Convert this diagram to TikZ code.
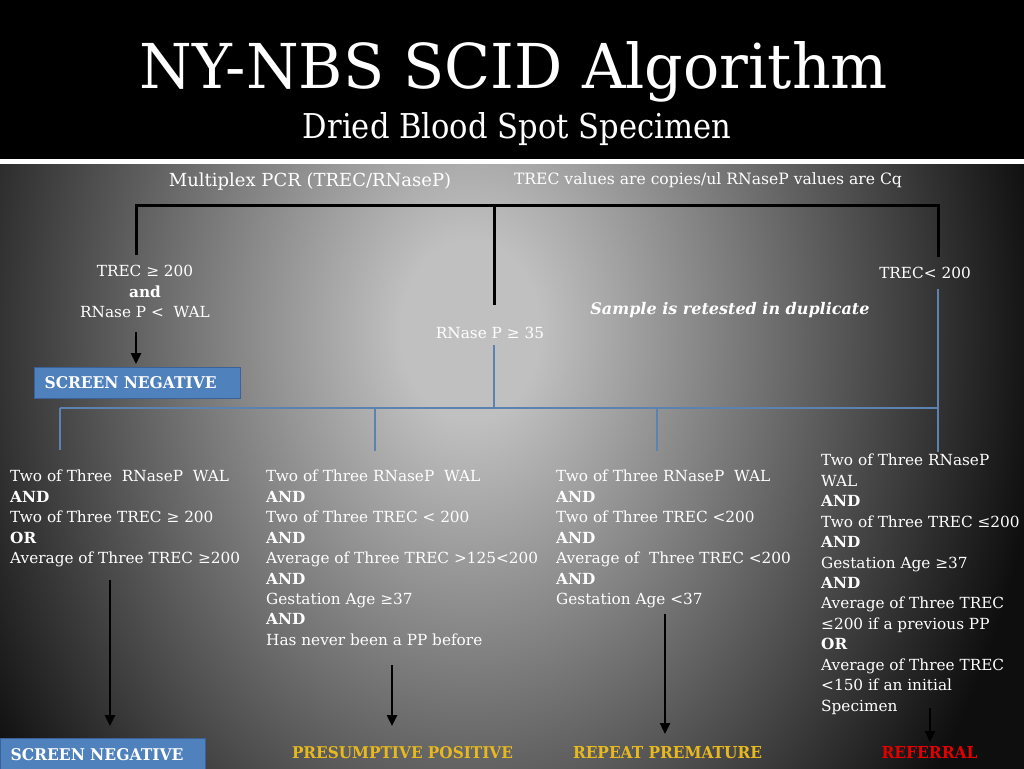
\documentclass[tikz,border=0pt]{standalone}
\usepackage{fontspec}
\setmainfont{DejaVu Serif}
\usepackage{graphicx}
\usetikzlibrary{arrows.meta}
\definecolor{bgin}{RGB}{192,192,192}
\definecolor{bgout}{RGB}{14,14,14}
\definecolor{boxblue}{RGB}{79,129,189}
\definecolor{boxedge}{RGB}{58,98,152}
\definecolor{thinblue}{RGB}{92,130,178}
\definecolor{gold}{RGB}{232,185,30}
\definecolor{refred}{RGB}{228,0,0}
\pgfdeclareradialshading{bgshade}{\pgfpoint{0bp}{0bp}}{color(0bp)=(bgin); color(1.5bp)=(bgin); color(12.5bp)=(bgout); color(50bp)=(bgout)}
\tikzset{
  body/.style={text=white, font=\fontsize{15.3}{20.45}\selectfont, inner sep=0pt, align=left, anchor=north west},
  lbl/.style={text=white, font=\fontsize{15.3}{20.45}\selectfont, inner sep=0pt},
  heavy/.style={line width=3pt, black},
  thinline/.style={line width=1.3pt, thinblue},
  arr/.style={line width=2.4pt, black, -{Triangle[length=11pt,width=10pt]}},
  negbox/.style={fill=boxblue, draw=boxedge, line width=1.2pt, text=white,
    anchor=north west, inner xsep=10pt, inner ysep=0pt, align=left},
  outcome/.style={font=\bfseries, inner sep=0pt, anchor=base}
}
\begin{document}
\begin{tikzpicture}[x=1pt,y=-1pt]
\useasboundingbox (0,0) rectangle (1024,768);
% background
\fill[black] (0,0) rectangle (1024,768);
\begin{scope}
  \clip (0,163) rectangle (1024,768);
  \shade[shading=bgshade] (470,330) ellipse [x radius=1150, y radius=1500];
\end{scope}
\fill[white] (0,159) rectangle (1024,163.5);

% titles
\node[text=white, inner sep=0pt, anchor=base] (title) at (514,88)
  {\resizebox{748pt}{47pt}{\fontsize{60}{60}\selectfont NY-NBS SCID Algorithm}};
\node[text=white, inner sep=0pt, anchor=base] (subtitle) at (517,138)
  {\resizebox{428pt}{26pt}{\fontsize{30}{30}\selectfont Dried Blood Spot Specimen}};

% top labels
\node[lbl, anchor=base, font=\fontsize{18}{20}\selectfont] (mpcr) at (310,186) {Multiplex PCR (TREC/RNaseP)};
\node[lbl, anchor=base, font=\fontsize{15.6}{18}\selectfont] (units) at (708,184) {TREC values are copies/ul RNaseP values are Cq};

% first level
\node[lbl, align=center, anchor=north] (condA) at (145,265)
  {TREC ≥ 200\\\textbf{and}\\RNase P <\ \ WAL};
\node[lbl, anchor=base] (condB) at (490,338) {RNase P ≥ 35};
\node[lbl, anchor=base] (condC) at (925,278) {TREC< 200};
\node[lbl, anchor=base, font=\bfseries\itshape\fontsize{16}{20}\selectfont] (retest) at (730,314) {Sample is retested in duplicate};

\node[negbox, minimum width=206pt, minimum height=31pt, text width=186pt] (neg1) at (34,367)
  {\resizebox{172pt}{12pt}{\bfseries SCREEN NEGATIVE}};

% bracket
\coordinate (bA) at (136,255);
\coordinate (bAt) at (136,205);
\coordinate (bBt) at (494,205);
\coordinate (bB) at (494,305);
\coordinate (bCt) at (938,205);
\coordinate (bC) at (938,257);
\draw[heavy] (bA) -- (bAt) -- (bCt) -- (bC);
\draw[heavy] (bBt) -- (bB);
\coordinate (aA1) at (136,332);
\coordinate (aA2) at (136,364);
\draw[arr] (aA1) -- (aA2);

% blue tree
\coordinate (tB1) at (494,345);
\coordinate (tB2) at (494,408);
\coordinate (tC1) at (938,289);
\coordinate (tC2) at (938,408);
\coordinate (tC3) at (938,452);
\coordinate (h1) at (60,408);
\coordinate (d1) at (60,450);
\coordinate (h2) at (375,408);
\coordinate (d2) at (375,451);
\coordinate (h3) at (657,408);
\coordinate (d3) at (657,451);
\draw[thinline] (tB1) -- (tB2);
\draw[thinline] (tC1) -- (tC3);
\draw[thinline] (h1) -- (tC2);
\draw[thinline] (h1) -- (d1);
\draw[thinline] (h2) -- (d2);
\draw[thinline] (h3) -- (d3);

% criteria columns
\node[body] (col1) at (10,470)
  {Two of Three\ \ RNaseP\ \ WAL\\\textbf{AND}\\Two of Three TREC ≥ 200\\\textbf{OR}\\Average of Three TREC ≥200};
\node[body] (col2) at (266,470)
  {Two of Three RNaseP\ \ WAL\\\textbf{AND}\\Two of Three TREC < 200\\\textbf{AND}\\Average of Three TREC >125<200\\\textbf{AND}\\Gestation Age ≥37\\\textbf{AND}\\Has never been a PP before};
\node[body] (col3) at (556,470)
  {Two of Three RNaseP\ \ WAL\\\textbf{AND}\\Two of Three TREC <200\\\textbf{AND}\\Average of\ \ Three TREC <200\\\textbf{AND}\\Gestation Age <37};
\node[body] (col4) at (821,454)
  {Two of Three RNaseP\\WAL\\\textbf{AND}\\Two of Three TREC ≤200\\\textbf{AND}\\Gestation Age ≥37\\\textbf{AND}\\Average of Three TREC\\≤200 if a previous PP\\\textbf{OR}\\Average of Three TREC\\<150 if an initial\\Specimen};

% arrows to outcomes
\coordinate (o1a) at (110,580);
\coordinate (o1b) at (110,726);
\coordinate (o2a) at (392,665);
\coordinate (o2b) at (392,726);
\coordinate (o3a) at (665,614);
\coordinate (o3b) at (665,734);
\coordinate (o4a) at (930,708);
\coordinate (o4b) at (930,742);
\draw[arr] (o1a) -- (o1b);
\draw[arr] (o2a) -- (o2b);
\draw[arr] (o3a) -- (o3b);
\draw[arr] (o4a) -- (o4b);

% outcomes
\node[negbox, minimum width=205pt, minimum height=32pt, text width=185pt] (neg2) at (0,738)
  {\resizebox{173pt}{12pt}{\bfseries SCREEN NEGATIVE}};
\node[outcome, text=gold] (pp) at (402.5,758) {\resizebox{221pt}{12pt}{PRESUMPTIVE POSITIVE}};
\node[outcome, text=gold] (rp) at (667.5,758) {\resizebox{189pt}{12pt}{REPEAT PREMATURE}};
\node[outcome, text=refred] (ref) at (929.5,758) {\resizebox{96pt}{12pt}{REFERRAL}};
\end{tikzpicture}
\end{document}
